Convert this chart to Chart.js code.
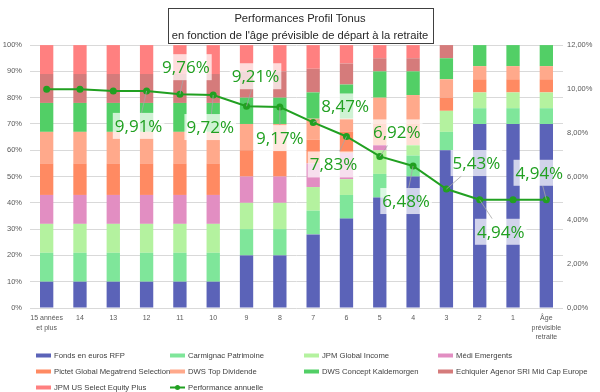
<!DOCTYPE html>
<html>
<head>
<meta charset="utf-8">
<script src="https://cdn.jsdelivr.net/npm/chart.js@4"></script>
<style>
  html, body { margin: 0; padding: 0; background: #fff; }
  #wrap { width: 600px; height: 392px; }
</style>
</head>
<body>
<div id="wrap"><canvas id="chart"></canvas></div>
<script>
// categories (x axis)
const categories = [['15 années', 'et plus'], '14', '13', '12', '11', '10', '9', '8', '7', '6', '5', '4', '3', '2', '1', ['Âge', 'prévisible', 'retraite']];

// allocation per fund (%)
const fondsEuros     = [10, 10, 10, 10, 10, 10, 20, 20, 28, 34, 42, 50, 60, 70, 70, 70];
const carmignac      = [11, 11, 11, 11, 11, 11, 10, 10,  9,  9,  9,  8,  7,  6,  6,  6];
const jpmGlobalInc   = [11, 11, 11, 11, 11, 11, 10, 10,  9,  6,  9,  4,  8,  6,  6,  6];
const mediEmergents  = [11, 11, 11, 11, 11, 11, 10, 10,  9, 10,  2,  0,  0,  0,  0,  0];
const pictetMega     = [12, 12, 12, 12, 12, 12, 10, 10,  9,  8,  8,  8,  5,  5,  5,  5];
const dwsTopDiv      = [12, 12, 12, 12, 12, 12, 10, 10,  8,  5, 10, 11,  7,  5,  5,  5];
const dwsConcept     = [11, 11, 11, 11, 11, 11, 10, 10, 10, 13, 10,  9,  8,  8,  8,  8];
const echiquier      = [11, 11, 11, 11, 11, 11, 10, 10,  9,  8,  5,  5,  5,  0,  0,  0];
const jpmUsEquity    = [11, 11, 11, 11, 11, 11, 10, 10,  9,  7,  5,  5,  0,  0,  0,  0];

// performance annuelle (%)
const perfAnnuelle = [9.98, 9.98, 9.91, 9.91, 9.76, 9.72, 9.21, 9.17, 8.47, 7.83, 6.92, 6.48, 5.43, 4.94, 4.94, 4.94];

// tick labels
const leftTicks = [0, 10, 20, 30, 40, 50, 60, 70, 80, 90, 100];
const rightTicks = [0, 2, 4, 6, 8, 10, 12];

// where each value label sits relative to its point (null = no label)
const labelOffsets = [null, null, null, [-8, 35], [6, -27], [-3, 32], [9, -30], [0, 31], [32, -16], [-13, 28], [17, -24], [-7, 35], [30, -26], [21, 32], null, [-7, -27]];

const fundNames = ['Fonds en euros RFP', 'Carmignac Patrimoine', 'JPM Global Income', 'Médi Emergents', 'Pictet Global Megatrend Selection', 'DWS Top Dividende', 'DWS Concept Kaldemorgen', 'Echiquier Agenor SRI Mid Cap Europe', 'JPM US Select Equity Plus'];
const fundValues = [fondsEuros, carmignac, jpmGlobalInc, mediEmergents, pictetMega, dwsTopDiv, dwsConcept, echiquier, jpmUsEquity];
const fundColors = ['#5b63b8', '#7fe69a', '#b4f29f', '#e28ec2', '#ff8a62', '#ffa98b', '#52cf66', '#d57b7b', '#ff8080'];
const lineColor = '#21a021';

const narrow = "'Liberation Sans Narrow', 'Liberation Sans', sans-serif";
const fmt = v => v.toFixed(2).replace('.', ',') + '%';

const datasets = fundNames.map((name, i) => ({
  type: 'bar',
  label: name,
  data: fundValues[i],
  backgroundColor: fundColors[i],
  borderWidth: 0,
  categoryPercentage: 0.8,
  barPercentage: 0.5,
  yAxisID: 'y',
  order: 2
}));
datasets.push({
  type: 'line',
  label: 'Performance annuelle',
  data: perfAnnuelle,
  borderColor: lineColor,
  backgroundColor: lineColor,
  borderWidth: 2,
  pointRadius: 2.5,
  pointBackgroundColor: lineColor,
  yAxisID: 'y1',
  order: 1
});

// box around the title
const titleBox = {
  id: 'titleBox',
  afterDraw(chart) {
    const ctx = chart.ctx;
    const t = chart.options.plugins.title;
    ctx.save();
    ctx.font = `${t.font.size}px ${t.font.family}`;
    const w = Math.max(...t.text.map(s => ctx.measureText(s).width)) + 8;
    const cx = chart.width / 2;
    ctx.strokeStyle = '#404040';
    ctx.lineWidth = 1;
    ctx.strokeRect(Math.round(cx - w / 2) + 0.5, 8.5, Math.round(w), 35);
    ctx.restore();
  }
};

// value labels with leader lines
const valueLabels = {
  id: 'valueLabels',
  afterDatasetsDraw(chart) {
    const ctx = chart.ctx;
    const meta = chart.getDatasetMeta(chart.data.datasets.length - 1);
    ctx.save();
    ctx.font = "17px 'Open Sans', sans-serif";
    ctx.textAlign = 'center';
    ctx.textBaseline = 'middle';
    meta.data.forEach((pt, i) => {
      const off = labelOffsets[i];
      if (!off) return;
      const text = fmt(perfAnnuelle[i]);
      const w = ctx.measureText(text).width + 4;
      const h = 26;
      const cx = pt.x + off[0], cy = pt.y + off[1];
      // leader line to box edge
      const dx = pt.x - cx, dy = pt.y - cy;
      const s = Math.min(dx !== 0 ? (w / 2) / Math.abs(dx) : Infinity, dy !== 0 ? (h / 2) / Math.abs(dy) : Infinity);
      if (s < 1) {
        ctx.strokeStyle = '#a6a6a6';
        ctx.lineWidth = 0.8;
        ctx.beginPath();
        ctx.moveTo(pt.x, pt.y);
        ctx.lineTo(cx + dx * s, cy + dy * s);
        ctx.stroke();
      }
      ctx.fillStyle = 'rgba(255,255,255,0.72)';
      ctx.fillRect(cx - w / 2, cy - h / 2, w, h);
      ctx.fillStyle = lineColor;
      ctx.fillText(text, cx, cy + 1);
    });
    ctx.restore();
  }
};

// legend laid out as a 4-column grid at the bottom
const gridLegend = {
  id: 'gridLegend',
  afterDraw(chart) {
    const ctx = chart.ctx;
    ctx.save();
    ctx.font = `7.7px ${narrow}`;
    ctx.textBaseline = 'middle';
    ctx.textAlign = 'left';
    chart.data.datasets.forEach((ds, i) => {
      const col = i % 4, row = Math.floor(i / 4);
      const x = 36 + col * 134, y = 355.5 + row * 16;
      if (ds.type === 'line') {
        ctx.strokeStyle = lineColor;
        ctx.lineWidth = 2;
        ctx.beginPath();
        ctx.moveTo(x, y); ctx.lineTo(x + 15, y); ctx.stroke();
        ctx.fillStyle = lineColor;
        ctx.beginPath(); ctx.arc(x + 7.5, y, 2.5, 0, Math.PI * 2); ctx.fill();
      } else {
        ctx.fillStyle = ds.backgroundColor;
        ctx.fillRect(x, y - 2, 15, 4);
      }
      ctx.fillStyle = '#404040';
      ctx.fillText(ds.label, x + 18, y);
    });
    ctx.restore();
  }
};

new Chart(document.getElementById('chart'), {
  data: { labels: categories, datasets: datasets },
  options: {
    responsive: true,
    maintainAspectRatio: false,
    animation: false,
    layout: { padding: { left: 0, right: 0, top: 0, bottom: 46 } },
    plugins: {
      legend: { display: false },
      tooltip: { enabled: false },
      title: {
        display: true,
        text: ['Performances Profil Tonus', "en fonction de l'âge prévisible de départ à la retraite"],
        color: '#262626',
        font: { family: narrow, size: 11.2, weight: 'normal', lineHeight: 1.5 },
        padding: { top: 10.5, bottom: 1 }
      }
    },
    scales: {
      x: {
        stacked: true,
        grid: { display: false, drawTicks: false },
        border: { display: false },
        ticks: { color: '#595959', font: { family: narrow, size: 7, lineHeight: 1.4 }, maxRotation: 0, autoSkip: false, padding: 5 },
        afterFit(scale) { scale.height = 38; }
      },
      y: {
        stacked: true,
        min: 0, max: 100,
        position: 'left',
        afterBuildTicks(scale) { scale.ticks = leftTicks.map(v => ({ value: v })); },
        ticks: { color: '#595959', font: { family: narrow, size: 7.5 }, padding: 8, callback: v => v + '%' },
        grid: { color: '#d9d9d9', drawTicks: false },
        border: { display: false },
        afterFit(scale) { scale.width = 30; }
      },
      y1: {
        stacked: false,
        min: 0, max: 12,
        position: 'right',
        afterBuildTicks(scale) { scale.ticks = rightTicks.map(v => ({ value: v })); },
        ticks: { color: '#595959', font: { family: narrow, size: 7.5 }, padding: 4, callback: v => v.toFixed(2).replace('.', ',') + '%' },
        grid: { display: false, drawTicks: false },
        border: { display: false },
        afterFit(scale) { scale.width = 37; }
      }
    }
  },
  plugins: [titleBox, valueLabels, gridLegend]
});
</script>
</body>
</html>
